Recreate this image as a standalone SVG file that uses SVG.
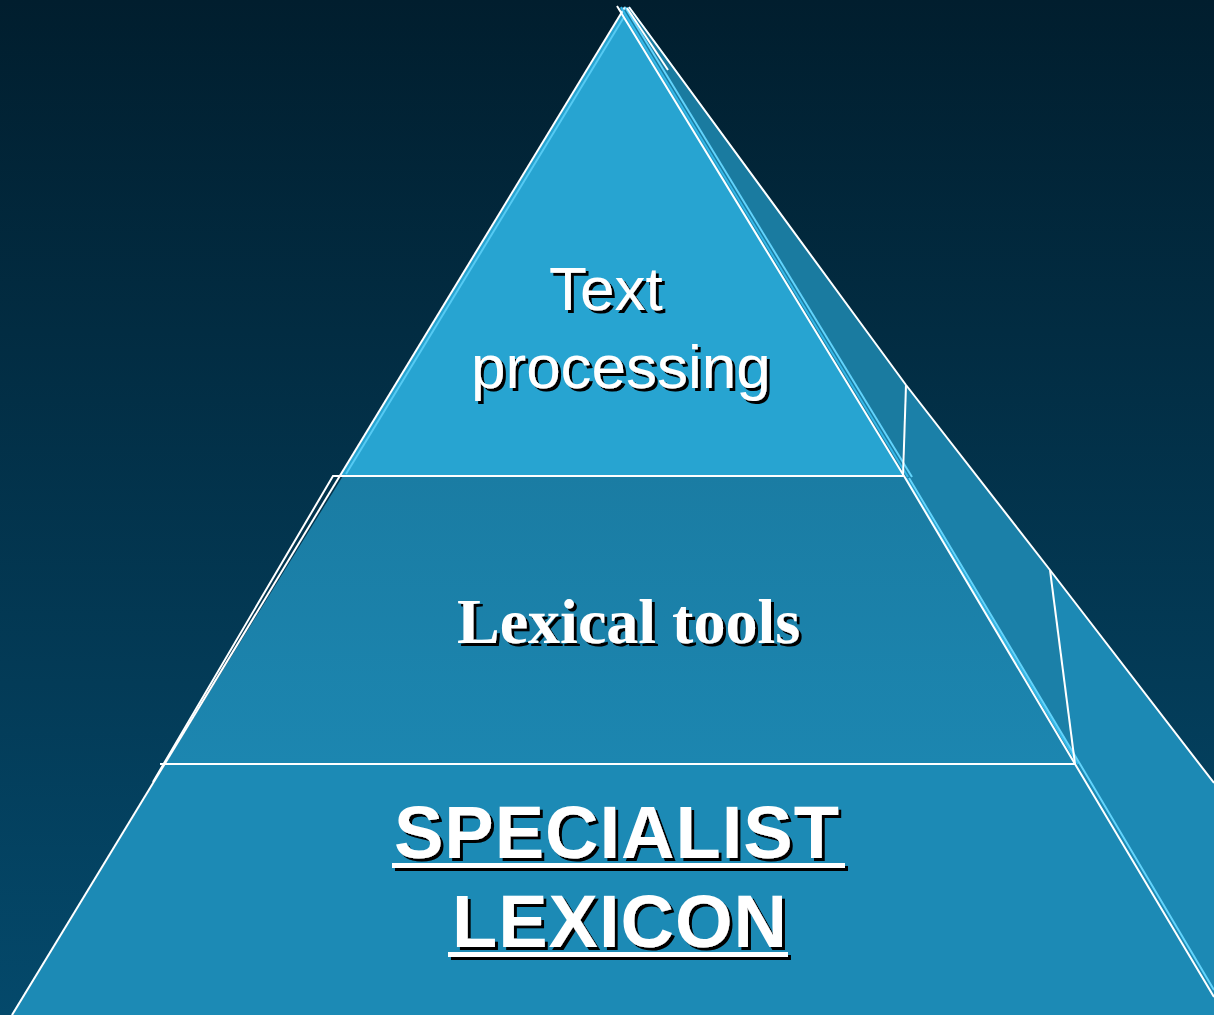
<svg xmlns="http://www.w3.org/2000/svg" width="1214" height="1015" viewBox="0 0 1214 1015">
  <defs>
    <linearGradient id="bg" x1="0" y1="0" x2="0" y2="1">
      <stop offset="0" stop-color="#011e2e"/>
      <stop offset="1" stop-color="#04496b"/>
    </linearGradient>
    <linearGradient id="mid" x1="0" y1="0" x2="0" y2="1">
      <stop offset="0" stop-color="#1a7ca3"/>
      <stop offset="1" stop-color="#1c86b0"/>
    </linearGradient>
    <filter id="shadow" x="-10%" y="-20%" width="120%" height="150%">
      <feDropShadow dx="3" dy="3" stdDeviation="0" flood-color="#000000" flood-opacity="1"/>
    </filter>
  </defs>
  <style>
    .edge { fill: none; stroke: #ffffff; stroke-width: 2; }
    .hl { fill: none; stroke: #62d3fb; stroke-width: 2; }
    .hl2 { fill: none; stroke: #34b6e6; stroke-width: 2; }
    .sans { font-family: "Liberation Sans", Arial, sans-serif; }
    .serif { font-family: "Liberation Serif", "Times New Roman", serif; font-weight: bold; }
    .bold { font-weight: bold; }
    .label { fill: #ffffff; filter: url(#shadow); }
  </style>

  <rect id="background" x="0" y="0" width="1214" height="1015" fill="url(#bg)"/>

  <g id="side-faces">
    <polygon points="618,8 630,7 906,385 904,476" fill="#1a7ba0"/>
    <polygon points="904,476 906,385 1050,570 1075,764" fill="#1b80a8"/>
    <polygon points="1075,764 1050,570 1214,783 1214,1015 1075,1015" fill="#1c89b4"/>
  </g>

  <g id="tier-bottom">
    <polygon points="165,764 1075,764 1214,997 1214,1015 11,1015" fill="#1c8ab5"/>
    <g class="sans bold label" font-size="74" letter-spacing="1">
      <text x="394" y="858">SPECIALIST</text>
      <rect x="392" y="863" width="453" height="5"/>
      <text x="452" y="947">LEXICON</text>
      <rect x="448" y="952" width="340" height="5"/>
    </g>
  </g>

  <g id="tier-middle">
    <polygon points="343,476 904,476 1075,764 165,764" fill="url(#mid)"/>
    <text class="serif label" font-size="64" x="457" y="643">Lexical tools</text>
  </g>

  <g id="tier-top">
    <polygon points="623,11 340,476 904,476" fill="#27a4d1"/>
    <g class="sans label" font-size="62">
      <text x="549" y="310">Text</text>
      <text x="471" y="388">processing</text>
    </g>
  </g>

  <g id="edges">
    <path class="hl" d="M624,17 L346,474" stroke-width="1.5" opacity="0.8"/>
    <path class="edge" d="M625,7 L12,1015"/>
    <path class="edge" d="M343,476 L333,476 L153,782" stroke-width="1.6"/>
    <path class="edge" d="M333,476 L904,476"/>
    <path class="edge" d="M160,764 L1075,764"/>
    <path class="hl2" d="M621,7 L908,477"/>
    <path class="hl" d="M625,7 L912,477"/>
    <path class="hl2" d="M906,478 L1078,764"/>
    <path class="hl" d="M909,478 L1080,764 L1214,990"/>
    <path class="edge" d="M617,6 L904,476 L1075,764 L1214,997"/>
    <path class="edge" d="M629,7 L873,340 L906,385 L1050,570 L1214,783"/>
    <path class="edge" d="M627,8 L668,70" stroke-width="1.5"/>
    <path class="edge" d="M906,385 L903,476"/>
    <path class="edge" d="M1050,570 L1075,764"/>
  </g>
</svg>
